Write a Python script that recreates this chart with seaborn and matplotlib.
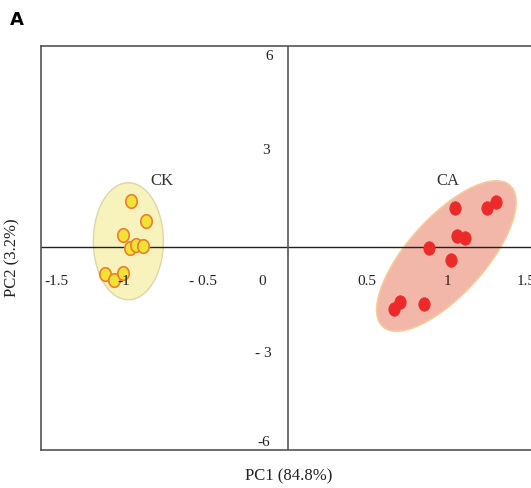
import numpy as np
import pandas as pd
import matplotlib
matplotlib.use("Agg")
import matplotlib.pyplot as plt
from matplotlib.path import Path
import seaborn as sns

# ---- data ----
ck_pc1 = [-0.983, -0.888, -1.030, -0.990, -0.950, -0.904, -1.144, -1.086, -1.033]
ck_pc2 = [1.43, 0.82, 0.375, -0.04, 0.06, 0.02, -0.84, -1.03, -0.81]
ca_pc1 = [1.044, 1.242, 1.300, 1.058, 1.106, 0.881, 1.019, 0.700, 0.663, 0.852]
ca_pc2 = [1.21, 1.21, 1.40, 0.33, 0.27, -0.04, -0.40, -1.71, -1.94, -1.78]
groups = ["CK", "CA"]

x_tick_vals = [-1.5, -1, -0.5, 0, 0.5, 1, 1.5]
x_tick_labels = ["-1.5", "-1", "- 0.5", "0", "0.5", "1", "1.5"]
y_tick_vals = [6, 3, -3, -6]
y_tick_labels = ["6", "3", "- 3", "-6"]

x_label = "PC1 (84.8%)"
y_label = "PC2 (3.2%)"

# ellipse specs: center (data), semi-axes in pixels, angle in degrees (display)
ck_ell = dict(cx=-0.998, cy=0.18, a=35, b=58.5, ang=0)
ca_ell = dict(cx=0.99, cy=-0.28, a=95, b=38.5, ang=48)

df = pd.DataFrame({
    "PC1": ck_pc1 + ca_pc1,
    "PC2": ck_pc2 + ca_pc2,
    "group": ["CK"] * len(ck_pc1) + ["CA"] * len(ca_pc1),
})

sns.set_theme(style="white")
plt.rcParams["font.family"] = ["Liberation Serif", "DejaVu Serif"]

W, H = 531, 489
fig = plt.figure(figsize=(W / 100, H / 100), dpi=100)
ax = fig.add_axes([41 / W, (H - 451) / H, (W - 41) / W + 0.01, (451 - 47) / H])
xlim = (-1.544, 1.519 + 0.01 * W / 160)
ylim = (-6.34, 6.28)
ax.set_xlim(*xlim)
ax.set_ylim(*ylim)

# pixel per unit
ppx = (ax.get_position().width * W) / (xlim[1] - xlim[0])
ppy = (ax.get_position().height * H) / (ylim[1] - ylim[0])


def ellipse_pts(e):
    t = np.linspace(0, 2 * np.pi, 200)
    th = np.deg2rad(e["ang"])
    px = e["a"] * np.cos(t) * np.cos(th) - e["b"] * np.sin(t) * np.sin(th)
    py = e["a"] * np.cos(t) * np.sin(th) + e["b"] * np.sin(t) * np.cos(th)
    return e["cx"] + px / ppx, e["cy"] + py / ppy


x, y = ellipse_pts(ck_ell)
ax.fill(x, y, facecolor="#f8f3bd", edgecolor="#ddd6a8", lw=1.0, zorder=1)
x, y = ellipse_pts(ca_ell)
ax.fill(x, y, facecolor="#f2b7a8", edgecolor="#f6cb9a", lw=1.2, zorder=1)

ax.axhline(0, color="#222222", lw=1.0, zorder=2)
ax.axvline(0, color="#555555", lw=1.2, zorder=2)

# slightly tall oval marker
tt = np.linspace(0, 2 * np.pi, 60)
oval = Path(np.column_stack([0.84 * np.cos(tt), np.sin(tt)]), closed=True)

sns.scatterplot(data=df[df.group == "CK"], x="PC1", y="PC2", ax=ax,
                color="#f1e236", edgecolor="#ee7d2e", linewidth=1.2,
                s=95, marker=oval, zorder=3, legend=False)
sns.scatterplot(data=df[df.group == "CA"], x="PC1", y="PC2", ax=ax,
                color="#ec2a2a", edgecolor="#ec2a2a", linewidth=0.5,
                s=95, marker=oval, zorder=3, legend=False)

# group labels
ax.text(-0.79, 2.1, "CK", fontsize=12, color="#333333", ha="center", va="center", zorder=4)
ax.text(1.0, 2.1, "CA", fontsize=12, color="#333333", ha="center", va="center", zorder=4)

# in-plot tick labels (offsets in data units to follow the hand-placed labels)
x_off = [0.05, -0.025, -0.03, -0.1625, -0.005, 0.0, -0.01]
for v, lab, o in zip(x_tick_vals, x_tick_labels, x_off):
    ax.text(v + o, -1.06, lab, fontsize=11, color="#222222",
            ha="center", va="center", zorder=4)
y_x = [-0.119, -0.1375, -0.156, -0.15]
y_off = [-0.03, 0.06, -0.28, -0.06]
for v, lab, xx, o in zip(y_tick_vals, y_tick_labels, y_x, y_off):
    ax.text(xx, v + o, lab, fontsize=11, color="#222222",
            ha="center", va="center", zorder=4)

ax.set_xticks([])
ax.set_yticks([])
ax.set_xlabel("")
ax.set_ylabel("")
for s in ["left", "top", "bottom"]:
    ax.spines[s].set_color("#555555")
    ax.spines[s].set_linewidth(1.2)
ax.spines["right"].set_visible(False)

fig.text(289 / W, 1 - 476 / H, x_label, fontsize=12, color="#222222", ha="center", va="center")
fig.text(12 / W, 1 - 258 / H, y_label, fontsize=12, color="#222222", ha="center", va="center",
         rotation=90)
fig.text(17 / W, 1 - 20 / H, "A", fontsize=13, fontweight="bold", family="DejaVu Sans",
         color="black", ha="center", va="center")

fig.savefig("out.png", dpi=100)
